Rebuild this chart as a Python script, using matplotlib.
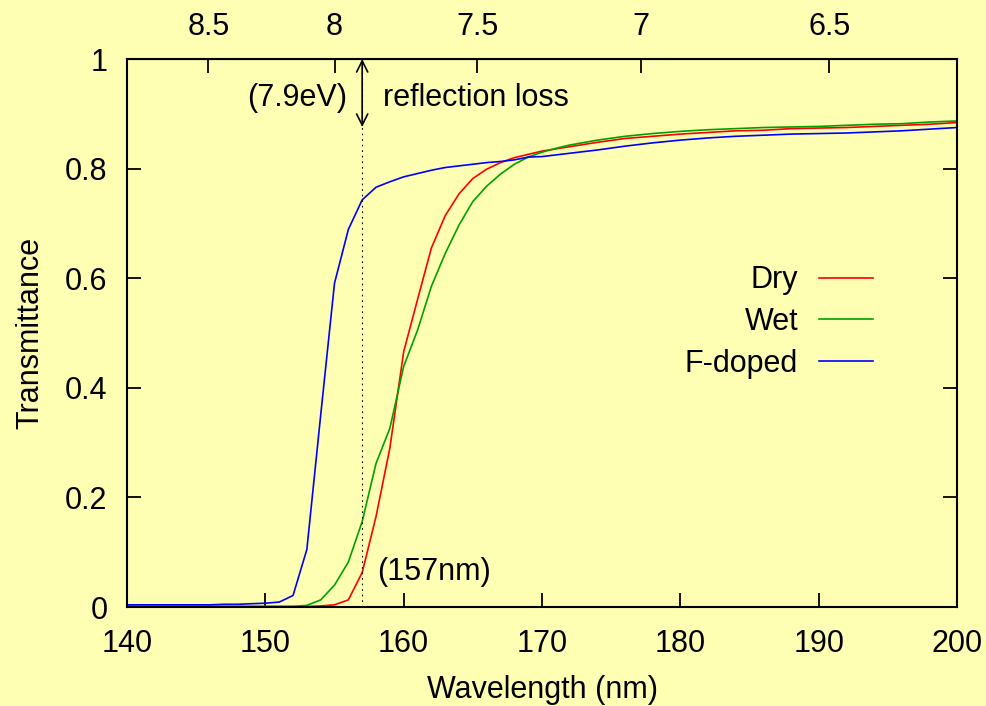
import matplotlib
matplotlib.use('Agg')
import matplotlib.pyplot as plt

plt.rcParams['font.family'] = ['Liberation Sans', 'DejaVu Sans']

# wavelength (nm)
wl = [140, 141, 142, 143, 144, 145, 146, 147, 148, 149,
      150, 151, 152, 153, 154, 155, 156, 157, 158, 159,
      160, 161, 162, 163, 164, 165, 166, 167, 168, 169,
      170, 171, 172, 174, 176, 178, 180, 182, 184, 186,
      188, 190, 192, 194, 196, 198, 200]

dry = [0.001, 0.001, 0.001, 0.001, 0.001, 0.001, 0.001, 0.001, 0.001, 0.001,
       0.001, 0.001, 0.001, 0.001, 0.002, 0.004, 0.013, 0.063, 0.165, 0.290,
       0.466, 0.561, 0.655, 0.714, 0.754, 0.782, 0.799, 0.811, 0.820, 0.826,
       0.832, 0.836, 0.840, 0.848, 0.855, 0.859, 0.863, 0.866, 0.869, 0.870,
       0.873, 0.874, 0.875, 0.877, 0.879, 0.881, 0.884]

wet = [0.001, 0.001, 0.001, 0.001, 0.001, 0.001, 0.001, 0.001, 0.001, 0.001,
       0.001, 0.001, 0.001, 0.003, 0.013, 0.040, 0.082, 0.156, 0.262, 0.326,
       0.439, 0.505, 0.585, 0.645, 0.697, 0.740, 0.768, 0.790, 0.808, 0.821,
       0.830, 0.837, 0.843, 0.852, 0.859, 0.864, 0.868, 0.871, 0.873, 0.875,
       0.876, 0.877, 0.879, 0.881, 0.882, 0.885, 0.887]

fdoped = [0.004, 0.004, 0.004, 0.004, 0.004, 0.004, 0.004, 0.005, 0.005, 0.006,
          0.007, 0.009, 0.021, 0.105, 0.350, 0.591, 0.689, 0.743, 0.766, 0.776,
          0.785, 0.791, 0.797, 0.802, 0.805, 0.808, 0.811, 0.813, 0.816, 0.821,
          0.822, 0.825, 0.828, 0.834, 0.841, 0.847, 0.852, 0.856, 0.859, 0.861,
          0.863, 0.864, 0.865, 0.867, 0.869, 0.872, 0.875]

x_ticks = [140, 150, 160, 170, 180, 190, 200]
y_ticks = [0, 0.2, 0.4, 0.6, 0.8, 1]
y_labels = ['0', '0.2', '0.4', '0.6', '0.8', '1']
ev_ticks = [8.5, 8, 7.5, 7, 6.5]
ev_labels = ['8.5', '8', '7.5', '7', '6.5']

bg = '#ffffb4'
fs = 22

fig = plt.figure(figsize=(9.87, 7.06), dpi=100, facecolor=bg)
ax = fig.add_axes([0.1287, 0.1402, 0.8409, 0.7762], facecolor=bg)

ax.plot(wl, dry, color='#ff0000', lw=1.2, label='Dry')
ax.plot(wl, wet, color='#00a000', lw=1.2, label='Wet')
ax.plot(wl, fdoped, color='#0000ff', lw=1.2, label='F-doped')

# 157 nm marker
ax.plot([157, 157], [0, 1], color='black', lw=0.8, linestyle=(0, (1.5, 3.5)))
ax.annotate('', xy=(157, 1.0), xytext=(157, 0.876),
            arrowprops=dict(arrowstyle='<->,head_length=0.4,head_width=0.2',
                            color='black', lw=1.2, mutation_scale=20,
                            shrinkA=0, shrinkB=0))
ax.text(155.9, 0.929, '(7.9eV)', ha='right', va='center', fontsize=fs)
ax.text(158.5, 0.929, 'reflection loss', ha='left', va='center', fontsize=fs)
ax.text(158.1, 0.064, '(157nm)', ha='left', va='center', fontsize=fs)

ax.set_xlim(140, 200)
ax.set_ylim(0, 1)
ax.set_xticks(x_ticks)
ax.set_xticklabels([str(t) for t in x_ticks])
ax.set_yticks(y_ticks)
ax.set_yticklabels(y_labels)
ax.tick_params(axis='x', direction='in', length=10, width=1.3, labelsize=fs, pad=15.5)
ax.tick_params(axis='y', direction='in', length=10, width=1.3, labelsize=fs, pad=14,
               right=True)
for sp in ax.spines.values():
    sp.set_linewidth(1.5)

ax.set_xlabel('Wavelength (nm)', fontsize=fs, labelpad=12)
ax.set_ylabel('Transmittance', fontsize=fs, labelpad=14)

top = ax.secondary_xaxis('top', functions=(lambda x: 1240.0 / x, lambda e: 1240.0 / e))
top.set_xticks(ev_ticks)
top.set_xticklabels(ev_labels)
top.tick_params(direction='in', length=10, width=1.3, labelsize=fs, pad=12)

ax.legend(loc='center right', bbox_to_anchor=(0.899, 0.52), frameon=False,
          markerfirst=False, fontsize=fs, handlelength=1.77, handletextpad=0.69,
          labelspacing=0.38, borderpad=0, borderaxespad=0)

fig.savefig('out.png', dpi=100, facecolor=bg)
